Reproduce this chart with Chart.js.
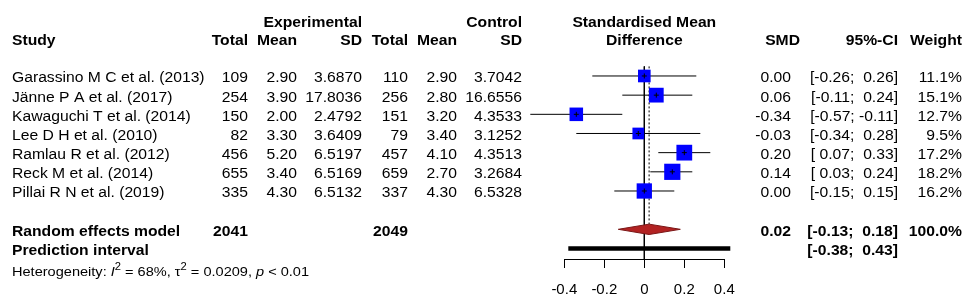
<!DOCTYPE html>
<html>
<head>
<meta charset="utf-8">
<script src="https://cdn.jsdelivr.net/npm/chart.js@4.4.1/dist/chart.umd.min.js"></script>
<style>
  body { margin: 0; background: #fff; }
  #wrap { width: 980px; height: 308px; }
</style>
</head>
<body>
<div id="wrap"><canvas id="forest" width="980" height="308"></canvas></div>
<script>
// study data
const studies = ['Garassino M C et al. (2013)', 'J\u00e4nne P A et al. (2017)', 'Kawaguchi T et al. (2014)',
  'Lee D H et al. (2010)', 'Ramlau R et al. (2012)', 'Reck M et al. (2014)', 'Pillai R N et al. (2019)']
const expTotal = [109, 254, 150, 82, 456, 655, 335]
const expMean = [2.90, 3.90, 2.00, 3.30, 5.20, 3.40, 4.30]
const expSD = [3.6870, 17.8036, 2.4792, 3.6409, 6.5197, 6.5169, 6.5132]
const ctrlTotal = [110, 256, 151, 79, 457, 659, 337]
const ctrlMean = [2.90, 2.80, 3.20, 3.40, 4.10, 2.70, 4.30]
const ctrlSD = [3.7042, 16.6556, 4.3533, 3.1252, 4.3513, 3.2684, 6.5328]
const smd = [0.00, 0.06, -0.34, -0.03, 0.20, 0.14, 0.00]
const ciLow = [-0.26, -0.11, -0.57, -0.34, 0.07, 0.03, -0.15]
const ciHigh = [0.26, 0.24, -0.11, 0.28, 0.33, 0.24, 0.15]
const weight = [11.1, 15.1, 12.7, 9.5, 17.2, 18.2, 16.2]

// pooled results
const reTotals = [2041, 2049]
const reEst = 0.024
const reCI = [-0.13, 0.18]
const piCI = [-0.38, 0.43]
const xTicks = [-0.4, -0.2, 0, 0.2, 0.4]

const RE_ROW = 8
const PI_ROW = 9
const SX = 1.12 // the original text is a little stretched sideways
const FONT = '"Liberation Sans", Arial, sans-serif'

function txt (ctx, s, x, y, align, bold, size) {
  ctx.save()
  ctx.font = (bold ? 'bold ' : '') + (size || 14) + 'px ' + FONT
  const w = ctx.measureText(s).width * SX
  let x0 = x
  if (align === 'right') x0 = x - w
  if (align === 'center') x0 = x - w / 2
  ctx.translate(x0, y)
  ctx.scale(SX, 1)
  ctx.textAlign = 'left'
  ctx.textBaseline = 'alphabetic'
  ctx.fillStyle = '#000'
  ctx.fillText(s, 0, 0)
  ctx.restore()
  return w
}

const fmtCI = (lo, hi) => {
  const f = v => (v < 0 ? '' : ' ') + v.toFixed(2)
  return '[' + f(lo) + '; ' + f(hi) + ']'
}

const tablePlugin = {
  id: 'forestTable',
  afterDraw (chart) {
    const ctx = chart.ctx
    const ys = chart.scales.y
    const base = v => ys.getPixelForValue(v) + 6.5

    // headers
    txt(ctx, 'Experimental', 362, 26.5, 'right', true)
    txt(ctx, 'Control', 522, 26.5, 'right', true)
    txt(ctx, 'Standardised Mean', 644.3, 26.5, 'center', true)
    txt(ctx, 'Study', 12, 45, 'left', true)
    txt(ctx, 'Total', 248, 45, 'right', true)
    txt(ctx, 'Mean', 297, 45, 'right', true)
    txt(ctx, 'SD', 362, 45, 'right', true)
    txt(ctx, 'Total', 408, 45, 'right', true)
    txt(ctx, 'Mean', 457, 45, 'right', true)
    txt(ctx, 'SD', 522, 45, 'right', true)
    txt(ctx, 'Difference', 644.3, 45, 'center', true)
    txt(ctx, 'SMD', 800, 45, 'right', true)
    txt(ctx, '95%-CI', 898, 45, 'right', true)
    txt(ctx, 'Weight', 962, 45, 'right', true)

    // study rows
    studies.forEach((s, i) => {
      const y = base(i)
      txt(ctx, s, 12, y, 'left')
      txt(ctx, String(expTotal[i]), 248, y, 'right')
      txt(ctx, expMean[i].toFixed(2), 297, y, 'right')
      txt(ctx, expSD[i].toFixed(4), 362, y, 'right')
      txt(ctx, String(ctrlTotal[i]), 408, y, 'right')
      txt(ctx, ctrlMean[i].toFixed(2), 457, y, 'right')
      txt(ctx, ctrlSD[i].toFixed(4), 522, y, 'right')
      txt(ctx, smd[i].toFixed(2), 791, y, 'right')
      txt(ctx, fmtCI(ciLow[i], ciHigh[i]), 898, y, 'right')
      txt(ctx, weight[i].toFixed(1) + '%', 962, y, 'right')
    })

    // pooled rows
    let y = base(RE_ROW)
    txt(ctx, 'Random effects model', 12, y, 'left', true)
    txt(ctx, String(reTotals[0]), 248, y, 'right', true)
    txt(ctx, String(reTotals[1]), 408, y, 'right', true)
    txt(ctx, reEst.toFixed(2), 791, y, 'right', true)
    txt(ctx, fmtCI(reCI[0], reCI[1]), 898, y, 'right', true)
    txt(ctx, '100.0%', 962, y, 'right', true)
    y = base(PI_ROW)
    txt(ctx, 'Prediction interval', 12, y, 'left', true)
    txt(ctx, fmtCI(piCI[0], piCI[1]), 898, y, 'right', true)

    // heterogeneity line with italics and superscripts
    y = 276
    let x = 12
    const h = 13
    const seg = (s, style, dy, size) => {
      ctx.save()
      ctx.font = (style || '') + ' ' + (size || h) + 'px ' + FONT
      const w = ctx.measureText(s).width * SX
      ctx.translate(x, y + (dy || 0))
      ctx.scale(SX, 1)
      ctx.fillStyle = '#000'
      ctx.textBaseline = 'alphabetic'
      ctx.textAlign = 'left'
      ctx.fillText(s, 0, 0)
      ctx.restore()
      x += w
    }
    seg('Heterogeneity: ')
    seg('I', 'italic')
    seg('2', '', -6, 10)
    seg(' = 68%, \u03c4')
    seg('2', '', -6, 10)
    seg(' = 0.0209, ')
    seg('p', 'italic')
    seg(' < 0.01')
  }
}

const dHalf = 0.27 // diamond half height in row units

const datasets = [
  {
    // reference line at 0
    data: [{ x: 0, y: -0.5 }, { x: 0, y: 9.55 }],
    borderColor: '#000', borderWidth: 1, order: 6
  },
  {
    // dotted line at the pooled estimate
    data: [{ x: reEst, y: -0.5 }, { x: reEst, y: RE_ROW - dHalf }],
    borderColor: '#000', borderWidth: 1, borderDash: [2, 2], order: 6
  }
]
studies.forEach((s, i) => {
  datasets.push({
    data: [{ x: ciLow[i], y: i }, { x: ciHigh[i], y: i }],
    borderColor: '#000', borderWidth: 1, order: 5
  })
})
datasets.push({
  type: 'scatter',
  data: smd.map((v, i) => ({ x: v, y: i })),
  pointStyle: 'rect',
  pointRadius: weight.map(w => 3.8 * Math.sqrt(w) / 1.414),
  backgroundColor: '#0000ff', borderColor: '#0000ff', borderWidth: 0, order: 4
})
datasets.push({
  type: 'scatter',
  data: smd.map((v, i) => ({ x: v, y: i })),
  pointStyle: 'cross', pointRadius: 2.5,
  borderColor: '#000', borderWidth: 1, order: 3
})
datasets.push({
  // pooled diamond
  data: [{ x: reCI[0], y: RE_ROW }, { x: reEst, y: RE_ROW - dHalf }, { x: reCI[1], y: RE_ROW },
    { x: reEst, y: RE_ROW + dHalf }, { x: reCI[0], y: RE_ROW }],
  fill: 'shape', backgroundColor: '#b22222', borderColor: '#7a1515', borderWidth: 1, order: 2
})
datasets.push({
  // prediction interval
  data: [{ x: piCI[0], y: PI_ROW }, { x: piCI[1], y: PI_ROW }],
  borderColor: '#000', borderWidth: 4.5, borderCapStyle: 'butt', order: 1
})
datasets.forEach(d => {
  if (!d.type) d.type = 'line'
  d.clip = false
  if (d.type === 'line') { d.pointRadius = 0; d.tension = 0 }
})

const ctx = document.getElementById('forest').getContext('2d')
const chart = new Chart(ctx, {
  data: { datasets: datasets },
  options: {
    responsive: false,
    animation: false,
    layout: { padding: { left: 564.3, right: 255.7, top: 50.1, bottom: 9 } },
    scales: {
      x: {
        type: 'linear',
        min: -0.4,
        max: 0.4,
        afterBuildTicks: s => { s.ticks = xTicks.map(v => ({ value: v })) },
        afterFit: s => { s.height = 40 },
        border: { display: true, color: '#000', width: 1 },
        grid: { drawOnChartArea: false, color: '#000', tickLength: 9, tickWidth: 1 },
        ticks: {
          color: '#000',
          padding: 13,
          maxRotation: 0,
          font: { family: FONT, size: 15 },
          callback: v => (v === 0 ? '0' : v.toFixed(1))
        }
      },
      y: {
        type: 'linear',
        display: false,
        reverse: true,
        min: -1.35,
        max: 9.548
      }
    },
    plugins: { legend: { display: false }, tooltip: { enabled: false } }
  },
  plugins: [tablePlugin]
})
</script>
</body>
</html>
